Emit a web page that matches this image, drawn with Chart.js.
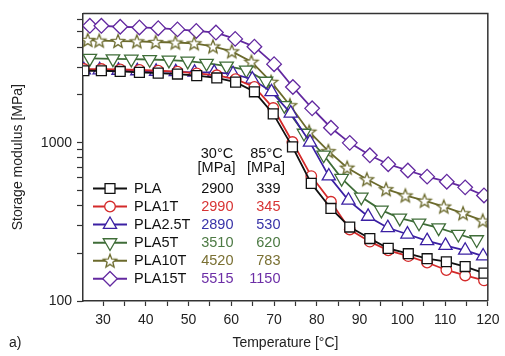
<!DOCTYPE html>
<html>
<head>
<meta charset="utf-8">
<script src="https://cdn.jsdelivr.net/npm/chart.js@4.4.0/dist/chart.umd.min.js"></script>
<style>
  html, body { margin: 0; padding: 0; background: #fff; }
  canvas { display: block; }
</style>
</head>
<body>
<canvas id="dmaChart" width="505" height="356"></canvas>
<script>
// storage modulus curves (temperature in °C, modulus in MPa)
const seriesNames = ['PLA', 'PLA1T', 'PLA2.5T', 'PLA5T', 'PLA10T', 'PLA15T'];

const tempPLA = [25.5, 29.6, 34.0, 38.5, 42.9, 47.4, 51.9, 56.6, 61.0, 65.4, 69.8, 74.3, 78.7, 83.3, 87.7, 92.4, 96.7, 101.4, 105.8, 110.3, 114.7, 119.1];
const modPLA = [2845, 2845, 2816, 2777, 2750, 2711, 2651, 2563, 2411, 2094, 1519, 940, 553, 384, 293, 248, 215, 199, 185, 177, 165, 150];

const tempPLA1T = [25.5, 29.6, 34.0, 38.5, 42.9, 47.4, 51.9, 56.6, 61.0, 65.4, 69.8, 74.3, 78.7, 83.3, 87.7, 92.4, 96.7, 101.4, 105.8, 110.3, 114.7, 119.1];
const modPLA1T = [2917, 2917, 2897, 2877, 2845, 2805, 2738, 2662, 2515, 2246, 1654, 1009, 615, 423, 283, 237, 209, 192, 175, 157, 145, 135];

const tempPLA25T = [25.5, 29.2, 33.6, 38.0, 42.4, 47.0, 51.4, 56.0, 60.4, 64.9, 69.4, 73.9, 78.4, 82.8, 87.4, 92.0, 96.6, 101.2, 105.8, 110.1, 114.7, 118.9];
const modPLA25T = [2877, 2877, 2857, 2837, 2816, 2797, 2777, 2777, 2719, 2515, 2094, 1534, 1004, 615, 432, 342, 290, 264, 240, 224, 209, 192];

const tempPLA5T = [26.9, 32.3, 36.6, 40.9, 45.4, 49.8, 54.2, 58.9, 63.5, 68.1, 72.4, 77.0, 81.6, 85.8, 90.4, 95.1, 99.4, 103.9, 108.5, 113.1, 117.4];
const modPLA5T = [3408, 3384, 3370, 3351, 3323, 3276, 3176, 3044, 2877, 2445, 1718, 1148, 836, 595, 453, 375, 334, 311, 290, 264, 244];

const tempPLA10T = [26.4, 29.1, 33.5, 37.9, 42.3, 46.9, 51.3, 55.7, 60.1, 64.7, 69.3, 73.7, 78.2, 82.7, 87.1, 91.7, 96.2, 100.7, 105.2, 109.7, 114.2, 118.8];
const modPLA10T = [4445, 4407, 4382, 4364, 4320, 4290, 4242, 4049, 3773, 3244, 2421, 1723, 1173, 884, 695, 587, 508, 464, 430, 395, 358, 322];

const tempPLA15T = [26.9, 29.6, 34.0, 38.5, 42.9, 47.4, 51.8, 56.4, 60.9, 65.4, 70.0, 74.4, 78.9, 83.3, 87.7, 92.4, 96.7, 101.3, 105.8, 110.4, 114.7, 119.1];
const modPLA15T = [5470, 5470, 5394, 5341, 5281, 5192, 5076, 4956, 4521, 4037, 3131, 2246, 1647, 1242, 997, 832, 731, 667, 610, 567, 522, 464];

// values printed in the legend table
const at30 = ['2900', '2990', '2890', '3510', '4520', '5515'];
const at85 = ['339', '345', '530', '620', '783', '1150'];

const xTicks = [30, 35, 40, 45, 50, 55, 60, 65, 70, 75, 80, 85, 90, 95, 100, 105, 110, 115, 120];
const yTicks = [100, 200, 300, 400, 500, 600, 700, 800, 900, 1000, 2000, 3000, 4000, 5000, 6000];
const yLabels = [100, 1000];

const FONT = '"Liberation Sans", Arial, sans-serif';
Chart.defaults.font.family = FONT;
Chart.defaults.color = '#222';

const makeStar = (color) => {
  const c = document.createElement('canvas');
  c.width = 18; c.height = 18;
  const g = c.getContext('2d');
  g.beginPath();
  for (let i = 0; i < 10; i++) {
    const r = i % 2 ? 3 : 7;
    const a = -Math.PI / 2 + i * Math.PI / 5;
    g.lineTo(9 + r * Math.cos(a), 9.6 + r * Math.sin(a));
  }
  g.closePath();
  g.fillStyle = '#fff';
  g.fill();
  g.strokeStyle = color;
  g.lineWidth = 1.3;
  g.stroke();
  return c;
};

const styles = [
  { color: '#111111', text: '#111111', point: 'rect', radius: 7, rot: 0 },
  { color: '#d42a2a', text: '#d83434', point: 'circle', radius: 5.3, rot: 0 },
  { color: '#3b20a3', text: '#3833a8', point: 'triangle', radius: 7.6, rot: 0 },
  { color: '#3f6d38', text: '#4d7a44', point: 'triangle', radius: 7.8, rot: 180 },
  { color: '#6b6a2c', text: '#7a7033', point: null, radius: 7, rot: 0 },
  { color: '#6329a0', text: '#6c2ea6', point: 'rectRot', radius: 7.3, rot: 0 }
];
styles[4].point = makeStar('#6b6a2c');

const temps = [tempPLA, tempPLA1T, tempPLA25T, tempPLA5T, tempPLA10T, tempPLA15T];
const mods = [modPLA, modPLA1T, modPLA25T, modPLA5T, modPLA10T, modPLA15T];

const datasets = seriesNames.map((name, i) => ({
  label: name,
  data: temps[i].map((t, k) => ({ x: t, y: mods[i][k] })),
  borderColor: styles[i].color,
  backgroundColor: '#fff',
  borderWidth: 1.8,
  pointStyle: styles[i].point,
  pointRotation: styles[i].rot,
  pointRadius: styles[i].radius,
  pointBorderWidth: 1.3,
  pointBorderColor: styles[i].color,
  pointBackgroundColor: '#fff',
  tension: 0,
  clip: 0
}));

const drawMarker = (ctx, s, x, y) => {
  if (s.point instanceof HTMLCanvasElement) {
    ctx.drawImage(s.point, x - s.point.width / 2, y - s.point.height / 2);
    return;
  }
  const r = s.radius;
  ctx.beginPath();
  if (s.point === 'circle') {
    ctx.arc(x, y, r, 0, Math.PI * 2);
  } else if (s.point === 'rect') {
    const h = r * Math.SQRT1_2;
    ctx.rect(x - h, y - h, 2 * h, 2 * h);
  } else if (s.point === 'rectRot') {
    ctx.moveTo(x, y - r); ctx.lineTo(x + r, y); ctx.lineTo(x, y + r); ctx.lineTo(x - r, y);
    ctx.closePath();
  } else {
    const d = s.rot ? Math.PI : 0;
    for (let k = 0; k < 3; k++) {
      const a = -Math.PI / 2 + d + k * 2 * Math.PI / 3;
      ctx.lineTo(x + r * Math.cos(a), y + r * Math.sin(a));
    }
    ctx.closePath();
  }
  ctx.fillStyle = '#fff';
  ctx.fill();
  ctx.lineWidth = 1.3;
  ctx.strokeStyle = s.color;
  ctx.stroke();
};

const tablePlugin = {
  id: 'tableLegend',
  afterDraw(chart) {
    const ctx = chart.ctx;
    const a = chart.chartArea;
    ctx.save();
    // frame on top and right
    ctx.strokeStyle = '#333';
    ctx.lineWidth = 1.5;
    ctx.beginPath();
    ctx.moveTo(a.left, a.top); ctx.lineTo(a.right, a.top); ctx.lineTo(a.right, a.bottom);
    ctx.stroke();

    ctx.font = '14.5px ' + FONT;
    ctx.textBaseline = 'middle';
    ctx.textAlign = 'center';
    ctx.fillStyle = '#111';
    ctx.fillText('30°C', 217, 154);
    ctx.fillText('[MPa]', 216.5, 168);
    ctx.fillText('85°C', 266.5, 154);
    ctx.fillText('[MPa]', 266, 168);

    seriesNames.forEach((name, i) => {
      const y = 188.5 + i * 18.05;
      const s = styles[i];
      ctx.strokeStyle = s.color;
      ctx.lineWidth = 2;
      ctx.beginPath();
      ctx.moveTo(93, y); ctx.lineTo(127, y);
      ctx.stroke();
      drawMarker(ctx, s, 110, y);
      ctx.textAlign = 'left';
      ctx.fillStyle = '#111';
      ctx.fillText(name, 134, y);
      ctx.textAlign = 'right';
      ctx.fillStyle = s.text;
      ctx.fillText(at30[i], 233.5, y);
      ctx.fillText(at85[i], 280.5, y);
    });

    ctx.textAlign = 'left';
    ctx.fillStyle = '#222';
    ctx.font = '14px ' + FONT;
    ctx.fillText('a)', 9, 343);
    ctx.restore();
  }
};

new Chart(document.getElementById('dmaChart'), {
  type: 'line',
  data: { datasets: datasets },
  options: {
    responsive: false,
    animation: false,
    layout: { padding: { top: 4, right: 13, left: 0, bottom: 0 } },
    plugins: { legend: { display: false }, tooltip: { enabled: false } },
    scales: {
      x: {
        type: 'linear',
        min: 25.3,
        max: 120,
        afterBuildTicks: s => { s.ticks = xTicks.map(v => ({ value: v })); },
        afterFit: s => { s.height = 55; },
        ticks: {
          autoSkip: false,
          maxRotation: 0,
          padding: 5.5,
          font: { size: 14 },
          color: '#222',
          callback: v => (v % 10 === 0 ? String(v) : '')
        },
        grid: { drawOnChartArea: false, tickLength: 5, tickColor: '#333', tickWidth: 1.2 },
        border: { color: '#333', width: 1.5 },
        title: { display: true, text: 'Temperature [°C]', font: { size: 14 }, color: '#222', padding: { top: 0, bottom: 4.5 } }
      },
      y: {
        type: 'logarithmic',
        min: 100,
        max: 6550,
        afterBuildTicks: s => { s.ticks = yTicks.map(v => ({ value: v })); },
        afterFit: s => { s.width = 83; },
        ticks: {
          autoSkip: false,
          padding: 5,
          font: { size: 14 },
          color: '#222',
          callback: v => (yLabels.includes(v) ? String(v) : '')
        },
        grid: { drawOnChartArea: false, tickLength: 6, tickColor: '#333', tickWidth: 1.2 },
        border: { color: '#333', width: 1.5 },
        title: { display: true, text: 'Storage modulus [MPa]', font: { size: 14 }, color: '#222', padding: { top: 10, bottom: 0 } }
      }
    }
  },
  plugins: [tablePlugin]
});
</script>
</body>
</html>
